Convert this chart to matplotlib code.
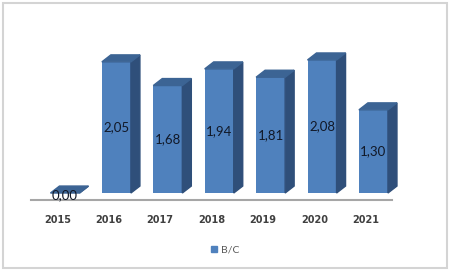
import matplotlib.pyplot as plt
from matplotlib.patches import Polygon, Rectangle, Patch

plt.rcParams['font.family'] = ['Lato', 'DejaVu Sans']

years = ['2015', '2016', '2017', '2018', '2019', '2020', '2021']
bc = [0.00, 2.05, 1.68, 1.94, 1.81, 2.08, 1.30]
series_name = 'B/C'

front = '#4f81bd'
side = '#2f4f7a'
top = '#3c6494'

fig = plt.figure(figsize=(4.5, 2.71), dpi=100)
# light frame round the chart area
fig.patches.append(Rectangle((0.007, 0.011), 0.986, 0.978, transform=fig.transFigure,
                             fill=False, ec='#d4d4d4', lw=1.5))

ax = fig.add_axes([0.069, 0.262, 0.802, 0.59])
ax.set_xlim(-0.66, 6.36)
ax.set_ylim(-0.109, 2.39)

w = 0.565
dx, dy = 0.175, 0.109  # depth of the 3d boxes

for i, v in enumerate(bc):
    x0, x1 = i - w / 2, i + w / 2
    ax.bar(i, v, width=w, color=front, zorder=2)
    ax.add_patch(Polygon([(x1, 0), (x1 + dx, dy), (x1 + dx, v + dy), (x1, v)],
                         closed=True, color=side, zorder=2, clip_on=False))
    ax.add_patch(Polygon([(x0, v), (x1, v), (x1 + dx, v + dy), (x0 + dx, v + dy)],
                         closed=True, color=top, zorder=2, clip_on=False))
    lab = f'{v:.2f}'.replace('.', ',')
    ax.text(i, v / 2 if v > 0 else -0.03, lab, ha='center', va='center',
            fontsize=9.5, color='#111827', zorder=3)

ax.plot([-0.66, 6.36], [-0.109, -0.109], color='#a6a6a6', lw=1.5, clip_on=False, zorder=1)

ax.set_xticks([i - 0.15 for i in range(len(years))])
ax.set_xticklabels(years, fontsize=7, fontweight='bold', color='#404040',
                   family='DejaVu Sans')
ax.tick_params(axis='x', length=0, pad=11)
ax.set_yticks([])
for s in ax.spines.values():
    s.set_visible(False)

fig.legend(handles=[Patch(color=front, label=series_name)], loc='center',
           bbox_to_anchor=(0.5, 0.077), frameon=False, fontsize=7.5,
           handlelength=0.6, handleheight=0.6, handletextpad=0.3, labelcolor='#595959')

fig.savefig('out.png', dpi=100)
